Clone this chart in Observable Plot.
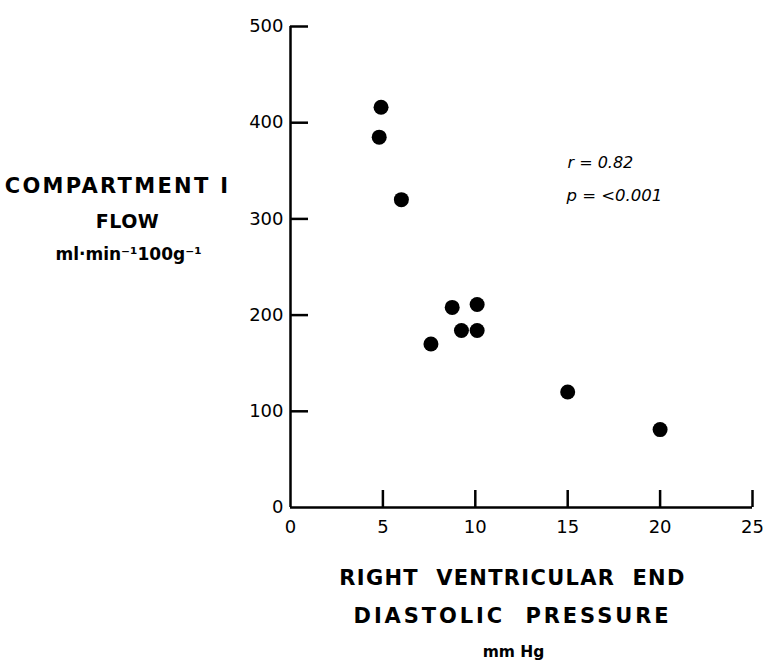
<!DOCTYPE html>
<html><head><meta charset="utf-8">
<script src="https://cdn.jsdelivr.net/npm/d3@7"></script>
<script src="https://cdn.jsdelivr.net/npm/@observablehq/plot@0.6"></script>
<style>
body{margin:0;background:#fff;}
svg{font-family:"DejaVu Sans",sans-serif;}
</style>
</head><body>
<div id="chart"></div>
<script>
const pressure = [4.9, 4.8, 6.0, 7.6, 8.75, 9.25, 10.1, 10.1, 15.0, 20.0];
const flow     = [416, 385, 320, 170, 208, 184, 211, 184, 120, 81];
const xTicks = [0, 5, 10, 15, 20, 25];
const yTicks = [0, 100, 200, 300, 400, 500];
const yTitle = ["COMPARTMENT I", "FLOW", "ml·min⁻¹100g⁻¹"];
const xTitle = ["RIGHT  VENTRICULAR  END", "DIASTOLIC  PRESSURE", "mm Hg"];
const stats = ["r = 0.82", "p = <0.001"];

const points = pressure.map((p, i) => ({p, f: flow[i]}));

function line(str, anchor, dx, dy, opts, spacing) {
  const o = Object.assign({
    frameAnchor: anchor, text: d => d, dx, dy,
    lineAnchor: "middle", textAnchor: "middle", fill: "#000"
  }, opts);
  if (spacing) {
    o.render = (index, scales, values, dims, ctx, next) => {
      const g = next(index, scales, values, dims, ctx);
      g.setAttribute("letter-spacing", spacing);
      return g;
    };
  }
  return Plot.text([str], o);
}

const chart = Plot.plot({
  width: 771,
  height: 665,
  marginLeft: 290,
  marginRight: 19,
  marginTop: 26,
  marginBottom: 158,
  style: {fontFamily: "DejaVu Sans, sans-serif", background: "#fff", color: "#000", overflow: "visible"},
  x: {domain: [0, 25]},
  y: {domain: [0, 500]},
  marks: [
    Plot.ruleX([0], {y1: 0, y2: 500, stroke: "#000", strokeWidth: 2.5}),
    Plot.ruleY([0], {x1: 0, x2: 25, stroke: "#000", strokeWidth: 2.5}),
    Plot.axisY({ticks: yTicks, tickSize: 0, tickPadding: 7, fontSize: 18, label: null, tickFormat: d => d}),
    Plot.axisY({ticks: yTicks.slice(1), tickSize: -18, tickFormat: () => "", strokeWidth: 2.5, label: null}),
    Plot.axisX({ticks: xTicks, tickSize: 0, tickPadding: 13, fontSize: 18, label: null, tickFormat: d => d}),
    Plot.axisX({ticks: xTicks.slice(1), tickSize: -17, tickFormat: () => "", strokeWidth: 2.5, label: null}),
    Plot.dot(points, {x: "p", y: "f", r: 7.5, fill: "#000", stroke: "none"}),
    line(yTitle[0], "top-left", -173, 160, {fontWeight: "bold", fontSize: 21}, "2.3"),
    line(yTitle[1], "top-left", -163, 195, {fontWeight: "bold", fontSize: 19}, "0.5"),
    line(yTitle[2], "top-left", -162, 228, {fontWeight: "bold", fontSize: 17}),
    line(xTitle[0], "bottom-left", 222, 71, {fontWeight: "bold", fontSize: 21}, "1.3"),
    line(xTitle[1], "bottom-left", 222, 109, {fontWeight: "bold", fontSize: 21}, "2.9"),
    line(xTitle[2], "bottom-left", 223, 145, {fontWeight: "bold", fontSize: 15.5}),
    line(stats[0], "top-left", 277, 136, {textAnchor: "start", fontSize: 16, fontStyle: "italic"}),
    line(stats[1], "top-left", 276, 169, {textAnchor: "start", fontSize: 16.5, fontStyle: "italic"})
  ]
});
document.getElementById("chart").appendChild(chart);
</script>
</body></html>
